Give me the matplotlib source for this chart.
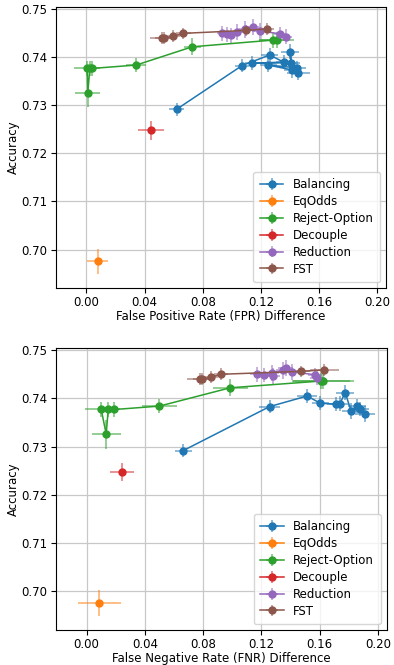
import matplotlib
matplotlib.use("Agg")
import matplotlib.pyplot as plt
from matplotlib.colors import to_rgba

# metodos en el orden de la leyenda
methods = ["Balancing", "EqOdds", "Reject-Option", "Decouple", "Reduction", "FST"]
colors = ["C0", "C1", "C2", "C3", "C4", "C5"]

# Balancing
bal_fpr = [0.062, 0.107, 0.126, 0.1355, 0.114, 0.1406, 0.140, 0.141, 0.125, 0.145, 0.1456]
bal_fnr = [0.0665, 0.1257, 0.1515, 0.1605, 0.171, 0.174, 0.1776, 0.1817, 0.1856, 0.1877, 0.1913]
bal_acc = [0.7292, 0.7383, 0.7405, 0.7390, 0.7388, 0.7389, 0.7412, 0.7374, 0.7384, 0.7378, 0.7368]
bal_fpr_err = [0.005, 0.005, 0.006, 0.005, 0.005, 0.006, 0.006, 0.005, 0.006, 0.006, 0.008]
bal_fnr_err = [0.006, 0.007, 0.007, 0.006, 0.006, 0.006, 0.006, 0.006, 0.006, 0.006, 0.007]
bal_acc_err = [0.0014, 0.0014, 0.0015, 0.0015, 0.0014, 0.0015, 0.0016, 0.0016, 0.0015, 0.0015, 0.0016]

# EqOdds
eq_fpr = [0.0078]
eq_fnr = [0.0089]
eq_acc = [0.6976]
eq_fpr_err = [0.0072]
eq_fnr_err = [0.0145]
eq_acc_err = [0.0026]

# Reject-Option
rej_fpr = [0.0005, 0.0009, 0.0023, 0.0041, 0.0342, 0.0727, 0.1285, 0.1307]
rej_fnr = [0.0101, 0.0135, 0.0149, 0.0192, 0.0500, 0.0987, 0.1611, 0.1627]
rej_acc = [0.7377, 0.7326, 0.7377, 0.7377, 0.7384, 0.7422, 0.7436, 0.7436]
rej_fpr_err = [0.009, 0.0085, 0.003, 0.003, 0.007, 0.006, 0.010, 0.012]
rej_fnr_err = [0.011, 0.010, 0.004, 0.004, 0.012, 0.012, 0.020, 0.021]
rej_acc_err = [0.0015, 0.003, 0.0015, 0.0015, 0.0015, 0.0018, 0.0017, 0.0017]

# Decouple
dec_fpr = [0.0443]
dec_fnr = [0.0245]
dec_acc = [0.7248]
dec_fpr_err = [0.009]
dec_fnr_err = [0.0082]
dec_acc_err = [0.0019]

# Reduction
red_fpr = [0.0935, 0.0969, 0.0992, 0.1038, 0.1090, 0.1143, 0.1193, 0.1330, 0.1371]
red_fnr = [0.1170, 0.1216, 0.1280, 0.1273, 0.1349, 0.1367, 0.1413, 0.1570, 0.1586]
red_acc = [0.7450, 0.7448, 0.7446, 0.7453, 0.7458, 0.7463, 0.7455, 0.7449, 0.7443]
red_fpr_err = [0.004, 0.004, 0.004, 0.004, 0.004, 0.004, 0.004, 0.004, 0.004]
red_fnr_err = [0.005, 0.005, 0.005, 0.005, 0.005, 0.005, 0.005, 0.005, 0.005]
red_acc_err = [0.0015, 0.0015, 0.0016, 0.0016, 0.0017, 0.0017, 0.0016, 0.0015, 0.0015]

# FST
fst_fpr = [0.0518, 0.0534, 0.0594, 0.0666, 0.1094, 0.1238]
fst_fnr = [0.0777, 0.0791, 0.0855, 0.0923, 0.1472, 0.1633]
fst_acc = [0.7440, 0.7440, 0.7444, 0.7450, 0.7456, 0.7459]
fst_fpr_err = [0.008, 0.006, 0.005, 0.005, 0.005, 0.005]
fst_fnr_err = [0.009, 0.006, 0.005, 0.005, 0.006, 0.010]
fst_acc_err = [0.0012, 0.0012, 0.0012, 0.0012, 0.0012, 0.0013]

fpr_data = [(bal_fpr, bal_fpr_err), (eq_fpr, eq_fpr_err), (rej_fpr, rej_fpr_err),
            (dec_fpr, dec_fpr_err), (red_fpr, red_fpr_err), (fst_fpr, fst_fpr_err)]
fnr_data = [(bal_fnr, bal_fnr_err), (eq_fnr, eq_fnr_err), (rej_fnr, rej_fnr_err),
            (dec_fnr, dec_fnr_err), (red_fnr, red_fnr_err), (fst_fnr, fst_fnr_err)]
acc_data = [(bal_acc, bal_acc_err), (eq_acc, eq_acc_err), (rej_acc, rej_acc_err),
            (dec_acc, dec_acc_err), (red_acc, red_acc_err), (fst_acc, fst_acc_err)]

xticks = [0.00, 0.04, 0.08, 0.12, 0.16, 0.20]
yticks = [0.70, 0.71, 0.72, 0.73, 0.74, 0.75]
fs = 8.5

fig = plt.figure(figsize=(3.94, 6.65), dpi=100)
ax1 = fig.add_axes([0.142, 0.567, 0.838, 0.4226])
ax2 = fig.add_axes([0.142, 0.0526, 0.839, 0.4245])

panels = [(ax1, fpr_data, "False Positive Rate (FPR) Difference"),
          (ax2, fnr_data, "False Negative Rate (FNR) Difference")]

for ax, xdata, xlabel in panels:
    for i, name in enumerate(methods):
        x, xe = xdata[i]
        y, ye = acc_data[i]
        ax.errorbar(x, y, xerr=xe, yerr=ye, fmt="-o", color=colors[i],
                    ecolor=to_rgba(colors[i], 0.55), elinewidth=1.3,
                    markersize=5, linewidth=1.1, label=name)
    ax.set_xlim(-0.021, 0.206)
    ax.set_ylim(0.692, 0.7505)
    ax.set_xticks(xticks)
    ax.set_xticklabels(["%.2f" % t for t in xticks])
    ax.set_yticks(yticks)
    ax.set_yticklabels(["%.2f" % t for t in yticks])
    ax.tick_params(labelsize=fs, pad=2.5)
    ax.grid(True, color="#c8c8c8", linewidth=0.9)
    ax.set_axisbelow(True)
    ax.set_xlabel(xlabel, fontsize=fs, labelpad=0.5)
    ax.set_ylabel("Accuracy", fontsize=fs, labelpad=1)
    ax.legend(loc="lower right", fontsize=fs, labelspacing=0.33, borderpad=0.55)

fig.savefig("out.png", dpi=100)
